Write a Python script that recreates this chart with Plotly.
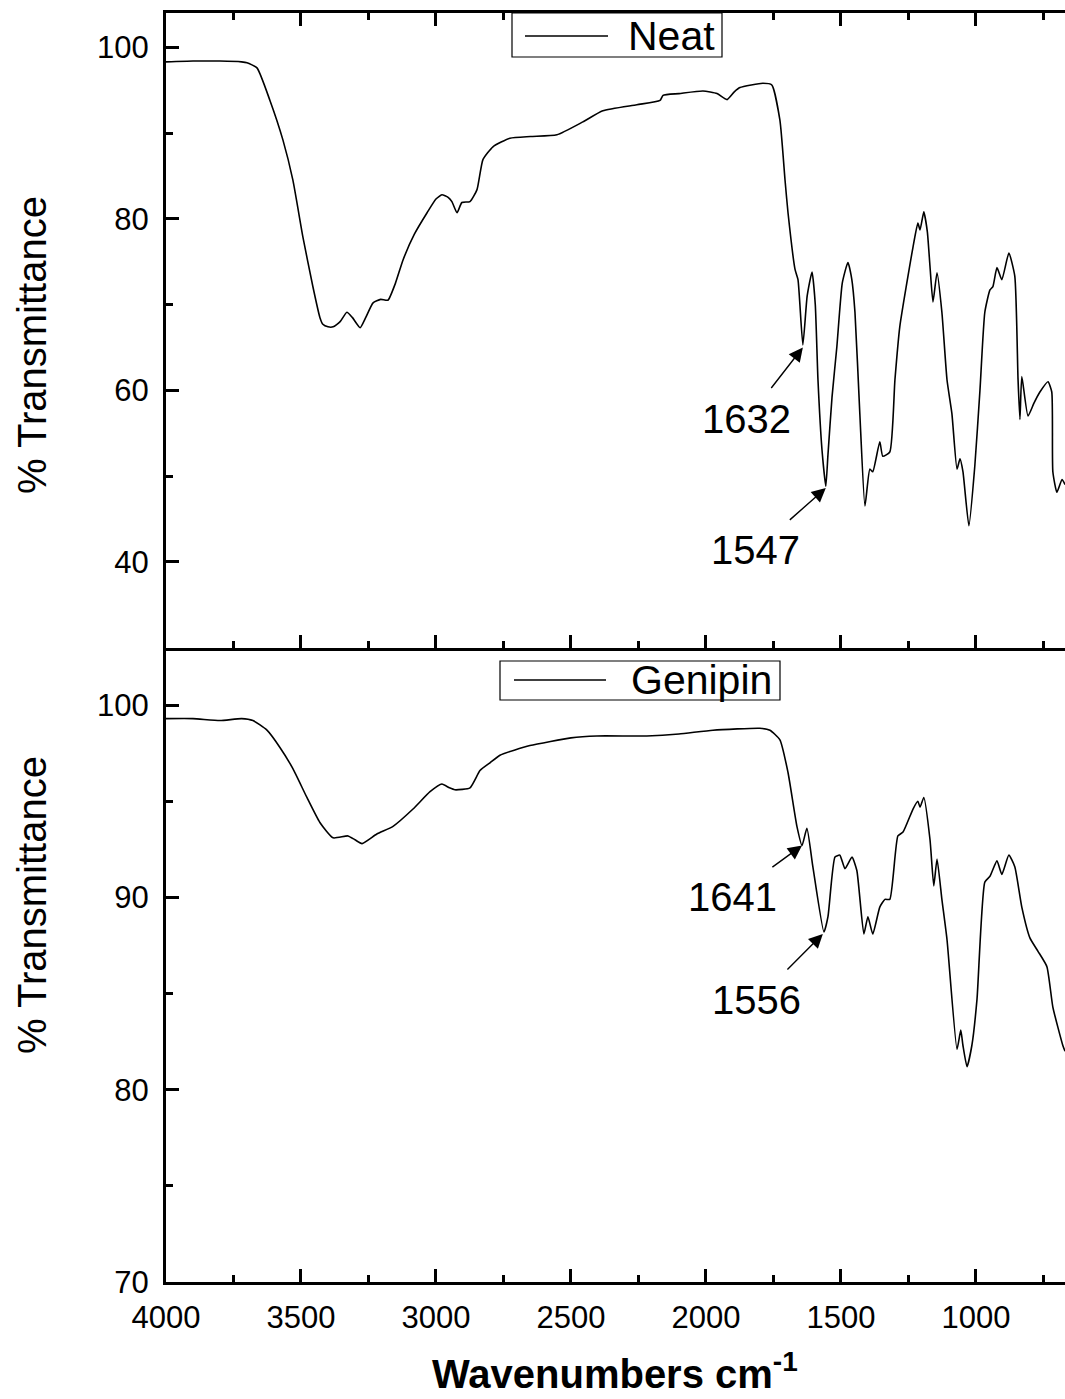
import plotly.graph_objects as go

# ---------------- data ----------------
neat_wn = [4000, 3900, 3800, 3720, 3700, 3663, 3615, 3567, 3530, 3493, 3456, 3430, 3419, 3400,
           3381, 3355, 3330, 3310, 3281, 3260, 3233, 3205, 3178, 3150, 3122, 3080, 3033, 3000,
           2978, 2955, 2941, 2922, 2904, 2874, 2848, 2826, 2789, 2726, 2650, 2552, 2456, 2382,
           2256, 2170, 2159, 2100, 2011, 1959, 1922, 1895, 1874, 1789, 1756, 1726, 1707, 1696,
           1670, 1659, 1641, 1625, 1607, 1595, 1585, 1570, 1556, 1548, 1533, 1515, 1495, 1474,
           1460, 1448, 1430, 1411, 1393, 1382, 1356, 1345, 1319, 1300, 1282, 1233, 1215, 1207,
           1193, 1180, 1170, 1159, 1144, 1126, 1107, 1089, 1070, 1059, 1048, 1026, 1004, 985,
           967, 948, 937, 922, 904, 878, 856, 844, 837, 830, 807, 785, 763, 733, 719, 715,
           700, 681, 670]
neat_t = [98.3, 98.4, 98.4, 98.3, 98.2, 97.6, 93.8, 89.2, 84.5, 77.9, 72.1, 68.5, 67.7, 67.4,
          67.4, 68.0, 69.1, 68.5, 67.3, 68.5, 70.2, 70.6, 70.5, 72.5, 75.2, 78.2, 80.7, 82.3,
          82.8, 82.5, 82.0, 80.7, 81.9, 82.0, 83.4, 86.9, 88.4, 89.4, 89.6, 89.8, 91.3, 92.6,
          93.3, 93.8, 94.4, 94.6, 94.9, 94.6, 93.9, 94.8, 95.3, 95.8, 95.6, 91.5, 84.5, 80.7,
          74.1, 72.9, 65.3, 71.0, 73.8, 70.0, 61.2, 53.0, 48.8, 52.5, 59.2, 65.1, 72.5, 74.9,
          73.0, 69.1, 57.3, 46.5, 50.8, 50.5, 54.0, 52.3, 52.8, 61.2, 67.4, 76.7, 79.5, 78.7,
          80.8, 78.5, 74.4, 70.3, 73.7, 69.1, 61.2, 57.3, 50.8, 52.0, 50.5, 44.2, 51.2, 60.0,
          69.1, 71.7, 72.1, 74.3, 72.9, 76.0, 73.3, 61.3, 56.6, 61.6, 57.0, 58.5, 59.8, 61.0, 59.8, 50.5,
          48.1, 49.6, 49.0]

genipin_wn = [4000, 3900, 3800, 3720, 3678, 3626, 3578, 3530, 3478, 3430, 3381, 3326, 3300, 3274,
              3219, 3159, 3085, 3022, 2978, 2950, 2930, 2874, 2837, 2800, 2763, 2652, 2500, 2404,
              2219, 2100, 1974, 1800, 1763, 1726, 1696, 1663, 1644, 1626, 1604, 1563, 1548, 1522,
              1504, 1485, 1459, 1441, 1415, 1400, 1382, 1356, 1337, 1319, 1289, 1270, 1233, 1215,
              1207, 1193, 1170, 1156, 1144, 1126, 1107, 1070, 1056, 1048, 1033, 1015, 996, 967,
              948, 922, 904, 878, 856, 830, 800, 770, 737, 715, 678, 670]
genipin_t = [99.3, 99.3, 99.2, 99.3, 99.2, 98.7, 97.8, 96.7, 95.2, 93.9, 93.1, 93.2, 93.0, 92.8,
             93.3, 93.7, 94.6, 95.5, 95.9, 95.7, 95.6, 95.7, 96.6, 97.0, 97.4, 97.9, 98.3, 98.4,
             98.4, 98.5, 98.7, 98.8, 98.7, 98.2, 96.5, 93.7, 92.7, 93.6, 91.6, 88.2, 89.0, 92.1,
             92.2, 91.5, 92.1, 91.4, 88.1, 89.0, 88.1, 89.5, 89.9, 89.9, 93.2, 93.4, 94.6, 95.0,
             94.7, 95.2, 93.0, 90.6, 92.0, 89.9, 87.8, 82.1, 83.1, 82.3, 81.2, 82.3, 84.7, 90.8,
             91.1, 91.9, 91.2, 92.2, 91.6, 89.5, 87.9, 87.2, 86.4, 84.3, 82.3, 82.0]

series_names = ["Neat", "Genipin"]
neat_peaks = [(1641, 65.0, "1632"), (1556, 48.6, "1547")]
genipin_peaks = [(1644, 92.7, "1641"), (1567, 88.1, "1556")]

x_range = [4000, 670]
top_y_range = [30, 104]
bot_y_range = [70, 103]

# ---------------- layout helpers ----------------
W, H = 1065, 1399
L, R, T, B = 166, 1065, 13, 1282

def px(x):
    return (x - L) / (R - L)

def py(y):
    return (B - y) / (B - T)

FONT = "Liberation Sans, Arial, sans-serif"

fig = go.Figure()
fig.add_trace(go.Scatter(x=neat_wn, y=neat_t, mode="lines", name=series_names[0],
                         line=dict(color="black", width=1.6, shape="spline", smoothing=0.5),
                         xaxis="x2", yaxis="y2", showlegend=False))
fig.add_trace(go.Scatter(x=genipin_wn, y=genipin_t, mode="lines", name=series_names[1],
                         line=dict(color="black", width=1.6, shape="spline", smoothing=0.5),
                         xaxis="x", yaxis="y", showlegend=False))

def minor(dt):
    return dict(dtick=dt, tick0=0, ticks="inside", ticklen=7, tickwidth=2.5, tickcolor="black")

axis_common = dict(linecolor="black", linewidth=3, ticks="inside",
                   tickcolor="black", tickwidth=2.5, ticklen=13, showgrid=False,
                   zeroline=False, tickfont=dict(family=FONT, size=31, color="black"))

fig.update_layout(
    width=W, height=H,
    margin=dict(l=L, r=W - R, t=T, b=H - B, pad=0),
    paper_bgcolor="white", plot_bgcolor="white",
    xaxis=dict(domain=[0, 1], anchor="y", range=x_range, dtick=500, tick0=0,
               showline=True, mirror=False, ticklabelstandoff=6, minor=minor(250),
               **axis_common),
    yaxis=dict(domain=[0, 0.5], anchor="x", range=bot_y_range, dtick=10, tick0=0,
               showline=True, mirror=False, ticklabelstandoff=8, minor=minor(5),
               **axis_common),
    yaxis3=dict(overlaying="y", side="right", anchor="x", range=bot_y_range, dtick=10, tick0=0,
                showline=False, showticklabels=False, minor=minor(5), **axis_common),
    xaxis2=dict(domain=[0, 1], anchor="y2", range=x_range, dtick=500, tick0=0,
                matches="x", showline=True, mirror="ticks", showticklabels=False,
                minor=minor(250), **axis_common),
    yaxis2=dict(domain=[0.5, 1], anchor="x2", range=top_y_range, dtick=20, tick0=0,
                showline=True, mirror=False, ticklabelstandoff=8, minor=minor(10),
                **axis_common),
    yaxis4=dict(overlaying="y2", side="right", anchor="x2", range=top_y_range, dtick=20, tick0=0,
                showline=False, showticklabels=False, minor=minor(10), **axis_common),
    showlegend=False,
)

annotations = []
# peak labels with arrows
peak_offsets = {"1632": (-56, 72), "1547": (-70, 62), "1641": (-70, 51), "1556": (-66, 66)}
for peaks, xr, yr in ((neat_peaks, "x2", "y2"), (genipin_peaks, "x", "y")):
    for wn, t, lab in peaks:
        ax, ay = peak_offsets[lab]
        annotations.append(dict(x=wn, y=t, xref=xr, yref=yr, text=lab, showarrow=True,
                                ax=ax, ay=ay, arrowhead=2, arrowsize=2.0, arrowwidth=1.4,
                                arrowcolor="black", startstandoff=10, standoff=0,
                                font=dict(family=FONT, size=40, color="black")))

# axis titles
for yc in (345, 905):
    annotations.append(dict(x=px(32), y=py(yc), xref="paper", yref="paper",
                            text="% Transmittance", textangle=-90, showarrow=False,
                            xanchor="center", yanchor="middle",
                            font=dict(family=FONT, size=40, color="black")))
annotations.append(dict(x=px(615), y=py(1398), xref="paper", yref="paper",
                        text="<b>Wavenumbers cm<sup>-1</sup></b>", showarrow=False,
                        xanchor="center", yanchor="bottom",
                        font=dict(family=FONT, size=40, color="black")))

# legends (boxed sample line + name)
legend_boxes = [((512, 13, 722, 57), (525, 608, 36), (626, 36), series_names[0]),
                ((500, 661, 780, 700), (514, 606, 680), (629, 680), series_names[1])]
shapes = []
for (bx0, by0, bx1, by1), (lx0, lx1, ly), (tx, ty), name in legend_boxes:
    shapes.append(dict(type="rect", xref="paper", yref="paper", x0=px(bx0), x1=px(bx1),
                       y0=py(by1), y1=py(by0), line=dict(color="black", width=1.2),
                       fillcolor="white", layer="above"))
    shapes.append(dict(type="line", xref="paper", yref="paper", x0=px(lx0), x1=px(lx1),
                       y0=py(ly), y1=py(ly), line=dict(color="black", width=1.4), layer="above"))
    annotations.append(dict(x=px(tx), y=py(ty), xref="paper", yref="paper", text=name,
                            showarrow=False, xanchor="left", yanchor="middle",
                            font=dict(family=FONT, size=41, color="black")))

fig.update_layout(annotations=annotations, shapes=shapes)
fig.write_html("out.html")
